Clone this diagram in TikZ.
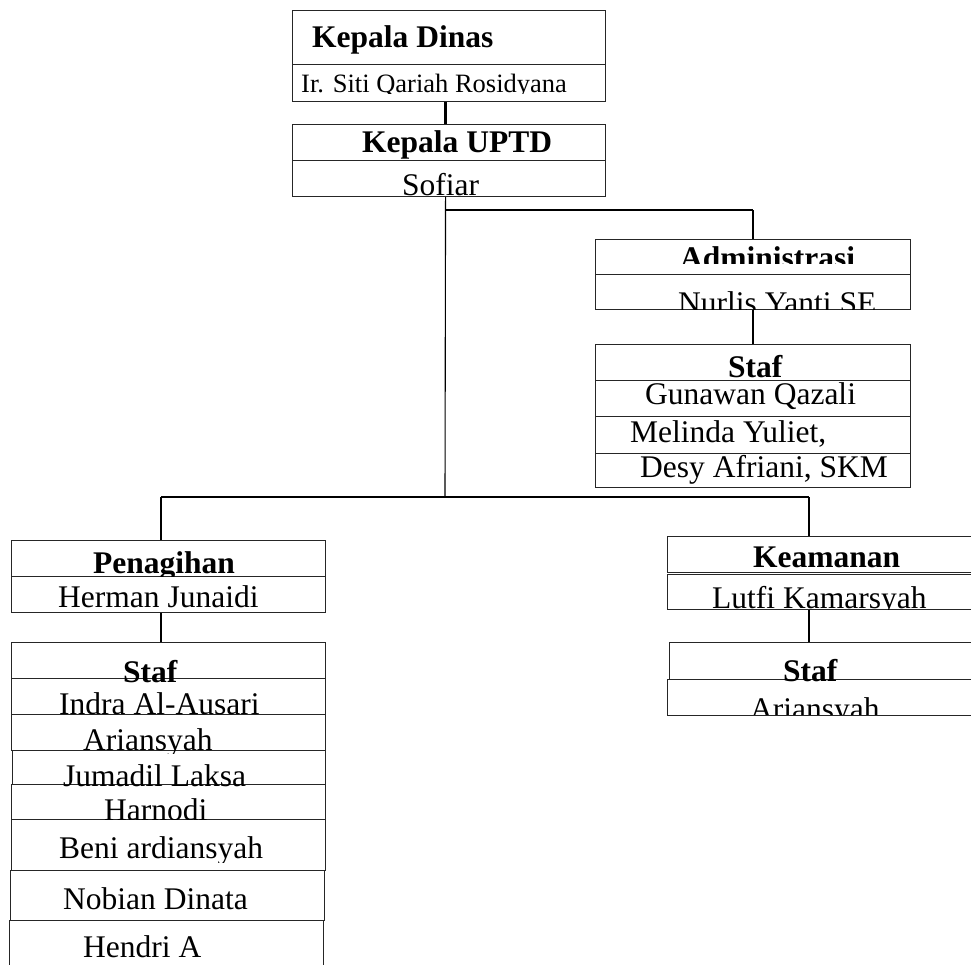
\documentclass[tikz,border=0pt]{standalone}
\usepackage{fontspec}
\setmainfont{Liberation Serif}
\tikzset{
  boxn/.style={draw=black!85, line width=1.1pt, rectangle, inner sep=0pt, anchor=north west},
  conn/.style={draw=black, line width=1.1pt},
  thickc/.style={draw=black, line width=3.5pt},
  thickh/.style={draw=black, line width=2.4pt},
  txt/.style={anchor=base west, inner sep=0pt, font=\fontsize{31.5}{36}\selectfont},
  btxt/.style={anchor=base west, inner sep=0pt, font=\fontsize{31.5}{36}\selectfont\bfseries},
  stxt/.style={anchor=base west, inner sep=0pt, font=\fontsize{26.5}{30}\selectfont}
}
\newcommand\mkbox[5]{\node[boxn, minimum width={(#4-#2)*1pt}, minimum height={(#5-#3)*1pt}] (#1) at (#2,#3) {};}
\newcommand\cliptext[6]{\begin{scope}\clip (0,0) rectangle (990,#5);\node[#1] (#2) at (#3,#4) {#6};\end{scope}}
\begin{document}
\begin{tikzpicture}[x=1pt,y=-1pt]
\useasboundingbox (0,0) rectangle (971,964);
\clip (0,0) rectangle (971,964);
% boxes
\mkbox{kd1}{292}{10}{605}{64}
\mkbox{kd2}{292}{64}{605}{101}
\mkbox{ku1}{292}{124}{605}{160}
\mkbox{ku2}{292}{160}{605}{196}
\mkbox{ad1}{595}{239}{910}{274}
\mkbox{ad2}{595}{274}{910}{309}
\mkbox{as1}{595}{344}{910}{380}
\mkbox{as2}{595}{380}{910}{416}
\mkbox{as3}{595}{416}{910}{453}
\mkbox{as4}{595}{453}{910}{487}
\mkbox{pn1}{11}{540}{325}{576}
\mkbox{pn2}{11}{576}{325}{612}
\mkbox{ps1}{11}{642}{325}{678}
\mkbox{ps2}{11}{678}{325}{714}
\mkbox{ps3}{11}{714}{325}{750}
\mkbox{ps4}{12}{750}{325}{784}
\mkbox{ps5}{11}{784}{325}{819}
\mkbox{ps6}{11}{819}{325}{870}
\mkbox{ps7}{10}{870}{324}{920}
\mkbox{ps8}{9}{920}{323}{975}
\mkbox{km1}{667}{536}{985}{572}
\mkbox{km2}{667}{574}{985}{609}
\mkbox{ks1}{669}{642}{985}{679}
\mkbox{ks2}{667}{679}{985}{715}
% connectors
\coordinate (jb) at (445,497);
\coordinate (jl) at (161,497);
\coordinate (jr) at (809,497);
\coordinate (ja) at (445,210);
\coordinate (jadm) at (753,210);
\draw[thickc] ([xshift=-3.5pt]kd2.south) -- ([xshift=-3.5pt]ku1.north);
\draw[conn] ([xshift=-3.5pt]ku2.south) -- (jb);
\draw[conn] (jl) -- (jr);
\draw[conn] (jl) -- (jl |- pn1.north);
\draw[conn] (jr) -- (jr |- km1.north);
\draw[thickh] (ja) -- (jadm);
\draw[conn] (jadm) -- (jadm |- ad1.north);
\draw[conn] (jadm |- ad2.south) -- (jadm |- as1.north);
\draw[conn] (jl |- pn2.south) -- (jl |- ps1.north);
\draw[conn] (jr |- km2.south) -- (jr |- ks1.north);
% texts
\cliptext{btxt}{t1}{312}{47}{64}{Kepala Dinas}
\cliptext{stxt}{t2}{301}{92}{93}{Ir. Siti Qariah Rosidyana}
\cliptext{btxt}{t3}{362}{152}{160}{Kepala UPTD}
\cliptext{txt}{t4}{402}{195}{200}{Sofiar}
\cliptext{btxt}{t5}{680}{268}{263}{Administrasi}
\cliptext{txt}{t6}{678}{313}{309}{Nurlis Yanti SE}
\cliptext{btxt}{t7}{728}{377}{381}{Staf}
\cliptext{txt}{t8}{645}{404}{416}{Gunawan Qazali}
\cliptext{txt}{t9}{630}{442}{453}{Melinda Yuliet,}
\cliptext{txt}{t10}{640}{477}{487}{Desy Afriani, SKM}
\cliptext{btxt}{t11}{93}{573}{576}{Penagihan}
\cliptext{txt}{t12}{58}{607}{612}{Herman Junaidi}
\cliptext{btxt}{t13}{123}{682}{690}{Staf}
\cliptext{txt}{t14}{59}{714}{720}{Indra Al-Ausari}
\cliptext{txt}{t15}{83}{750}{753}{Ariansyah}
\cliptext{txt}{t16}{63}{786}{788}{Jumadil Laksa}
\cliptext{txt}{t17}{104}{820}{819}{Harnodi}
\cliptext{txt}{t18}{59}{858}{862}{Beni ardiansyah}
\cliptext{txt}{t19}{63}{909}{920}{Nobian Dinata}
\cliptext{txt}{t20}{83}{957}{970}{Hendri A}
\cliptext{btxt}{t21}{753}{567}{572}{Keamanan}
\cliptext{txt}{t22}{712}{608}{609}{Lutfi Kamarsyah}
\cliptext{btxt}{t23}{783}{681}{690}{Staf}
\cliptext{txt}{t24}{750}{719}{714}{Ariansyah}
\end{tikzpicture}
\end{document}
